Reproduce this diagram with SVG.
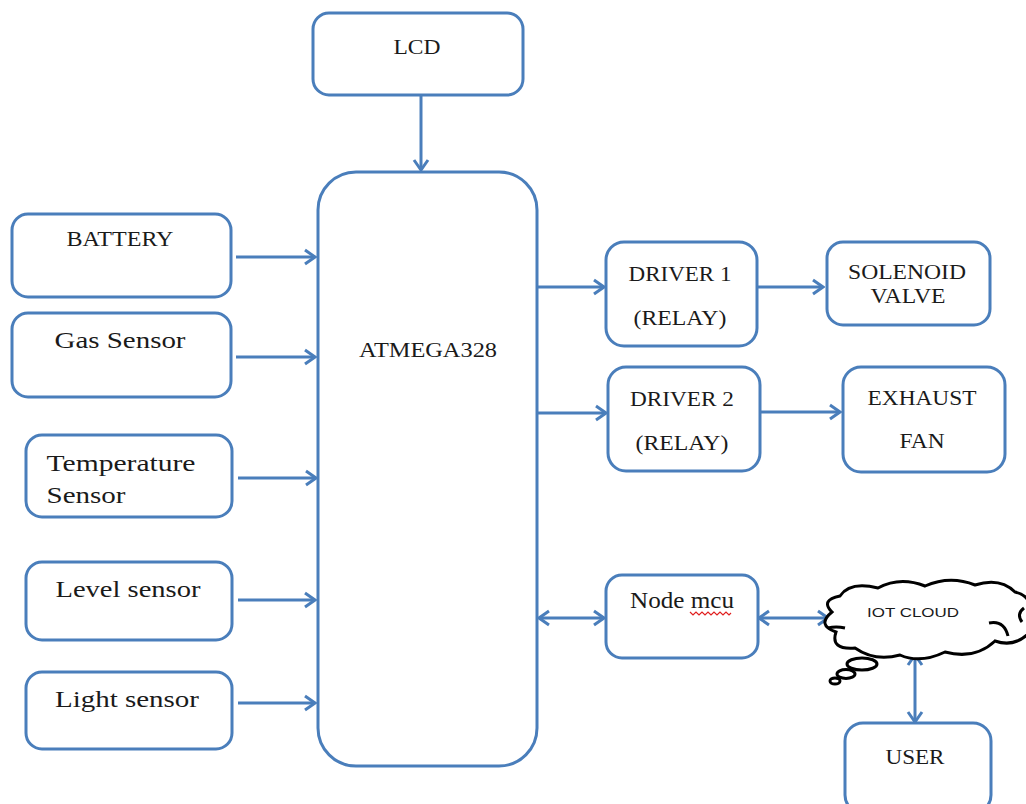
<svg xmlns="http://www.w3.org/2000/svg" width="1026" height="804" viewBox="0 0 1026 804">
<style>
.box{fill:#fff;stroke:#4a7ebb;stroke-width:3}
.s{font-family:'Liberation Serif','Times New Roman','DejaVu Serif',serif;fill:#1a1a1a;text-anchor:middle}
.c{font-size:20px}
.m{font-size:24px}
.ln{fill:none;stroke:#4a7ebb;stroke-width:3}
</style>
<defs>
<marker id="ah" markerUnits="userSpaceOnUse" markerWidth="14" markerHeight="18" refX="12" refY="9" orient="auto-start-reverse">
<path d="M2,2 L12,9 L2,16" fill="none" stroke="#4a7ebb" stroke-width="3"/>
</marker>
</defs>
<rect width="1026" height="804" fill="#fff"/>
<g id="connectors">
<line class="ln" x1="421" y1="96" x2="421" y2="170" marker-end="url(#ah)"/>
<line class="ln" x1="236" y1="257" x2="315" y2="257" marker-end="url(#ah)"/>
<line class="ln" x1="236" y1="357" x2="315" y2="357" marker-end="url(#ah)"/>
<line class="ln" x1="238" y1="478" x2="316" y2="478" marker-end="url(#ah)"/>
<line class="ln" x1="238" y1="600" x2="315" y2="600" marker-end="url(#ah)"/>
<line class="ln" x1="238" y1="703" x2="315" y2="703" marker-end="url(#ah)"/>
<line class="ln" x1="538" y1="287" x2="604" y2="287" marker-end="url(#ah)"/>
<line class="ln" x1="757" y1="287" x2="823" y2="287" marker-end="url(#ah)"/>
<line class="ln" x1="538" y1="413" x2="606" y2="413" marker-end="url(#ah)"/>
<line class="ln" x1="760" y1="412" x2="840" y2="412" marker-end="url(#ah)"/>
<line class="ln" x1="539" y1="618" x2="604" y2="618" marker-start="url(#ah)" marker-end="url(#ah)"/>
<line class="ln" x1="759" y1="618" x2="828" y2="618" marker-start="url(#ah)" marker-end="url(#ah)"/>
<line class="ln" x1="915" y1="655" x2="915" y2="722" marker-start="url(#ah)" marker-end="url(#ah)"/>
</g>
<g id="lcd">
<rect class="box" x="313" y="13" width="210" height="82" rx="16"/>
<text class="s c" x="417" y="54" textLength="47" lengthAdjust="spacingAndGlyphs">LCD</text>
</g>
<g id="atmega">
<rect class="box" x="318" y="172" width="219" height="594" rx="38"/>
<text class="s c" x="428" y="357" textLength="138" lengthAdjust="spacingAndGlyphs">ATMEGA328</text>
</g>
<g id="battery">
<rect class="box" x="12" y="214" width="219" height="83" rx="16"/>
<text class="s c" x="120" y="246" textLength="107" lengthAdjust="spacingAndGlyphs">BATTERY</text>
</g>
<g id="gas">
<rect class="box" x="12" y="313" width="219" height="84" rx="16"/>
<text class="s m" x="120" y="348" textLength="131" lengthAdjust="spacingAndGlyphs">Gas Sensor</text>
</g>
<g id="temp">
<rect class="box" x="26" y="435" width="206" height="82" rx="16"/>
<text class="s m" x="121" y="471" textLength="149" lengthAdjust="spacingAndGlyphs">Temperature</text>
<text class="s m" x="86" y="503" textLength="79" lengthAdjust="spacingAndGlyphs">Sensor</text>
</g>
<g id="level">
<rect class="box" x="26" y="562" width="206" height="78" rx="16"/>
<text class="s m" x="128" y="597" textLength="145" lengthAdjust="spacingAndGlyphs">Level sensor</text>
</g>
<g id="light">
<rect class="box" x="26" y="672" width="206" height="77" rx="16"/>
<text class="s m" x="127" y="707" textLength="144" lengthAdjust="spacingAndGlyphs">Light sensor</text>
</g>
<g id="driver1">
<rect class="box" x="606" y="242" width="151" height="104" rx="18"/>
<text class="s c" x="680" y="281" textLength="103" lengthAdjust="spacingAndGlyphs">DRIVER 1</text>
<text class="s c" x="680" y="325" textLength="93" lengthAdjust="spacingAndGlyphs">(RELAY)</text>
</g>
<g id="solenoid">
<rect class="box" x="827" y="242" width="163" height="83" rx="16"/>
<text class="s c" x="907" y="279" textLength="118" lengthAdjust="spacingAndGlyphs">SOLENOID</text>
<text class="s c" x="908" y="303" textLength="75" lengthAdjust="spacingAndGlyphs">VALVE</text>
</g>
<g id="driver2">
<rect class="box" x="608" y="367" width="152" height="104" rx="18"/>
<text class="s c" x="682" y="406" textLength="104" lengthAdjust="spacingAndGlyphs">DRIVER 2</text>
<text class="s c" x="682" y="450" textLength="93" lengthAdjust="spacingAndGlyphs">(RELAY)</text>
</g>
<g id="exhaust">
<rect class="box" x="843" y="367" width="162" height="105" rx="18"/>
<text class="s c" x="922" y="405" textLength="109" lengthAdjust="spacingAndGlyphs">EXHAUST</text>
<text class="s c" x="922" y="448" textLength="45" lengthAdjust="spacingAndGlyphs">FAN</text>
</g>
<g id="nodemcu">
<rect class="box" x="606" y="575" width="152" height="83" rx="16"/>
<text class="s m" x="682" y="608" textLength="104" lengthAdjust="spacingAndGlyphs">Node mcu</text>
<path d="M690,612 l3,3 l3,-3 l3,3 l3,-3 l3,3 l3,-3 l3,3 l3,-3 l3,3 l3,-3 l3,3 l3,-3 l3,3 l2,-2" fill="none" stroke="#e02020" stroke-width="1.2"/>
</g>
<g id="cloud">
<path d="M832,612 Q820,600 840,596 Q850,581 878,588 Q900,576 925,586 Q950,575 975,585 Q1000,577 1015,592 Q1032,596 1030,612 L1030,632 Q1015,648 995,641 Q975,660 945,652 Q920,664 900,655 Q875,662 855,648 Q830,650 836,632 Q816,625 832,612 Z" fill="#fff" stroke="#000" stroke-width="3"/>
<path d="M828,628 Q836,626 845,628" fill="none" stroke="#000" stroke-width="3"/>
<path d="M989,623 Q1004,620 1008,636" fill="none" stroke="#000" stroke-width="3"/>
<path d="M1024,608 Q1016,614 1022,622" fill="none" stroke="#000" stroke-width="3"/>
<ellipse cx="862" cy="664" rx="15" ry="6" fill="#fff" stroke="#000" stroke-width="3"/>
<ellipse cx="846" cy="674" rx="9" ry="4.5" fill="#fff" stroke="#000" stroke-width="3"/>
<ellipse cx="835" cy="681" rx="5" ry="3" fill="#fff" stroke="#000" stroke-width="3"/>
<text x="913" y="617" font-family="Liberation Sans, sans-serif" font-size="13" fill="#1a1a1a" text-anchor="middle" textLength="92" lengthAdjust="spacingAndGlyphs">IOT CLOUD</text>
</g>
<g id="user">
<rect class="box" x="845" y="723" width="146" height="90" rx="18"/>
<text class="s c" x="915" y="764" textLength="59" lengthAdjust="spacingAndGlyphs">USER</text>
</g>
</svg>
